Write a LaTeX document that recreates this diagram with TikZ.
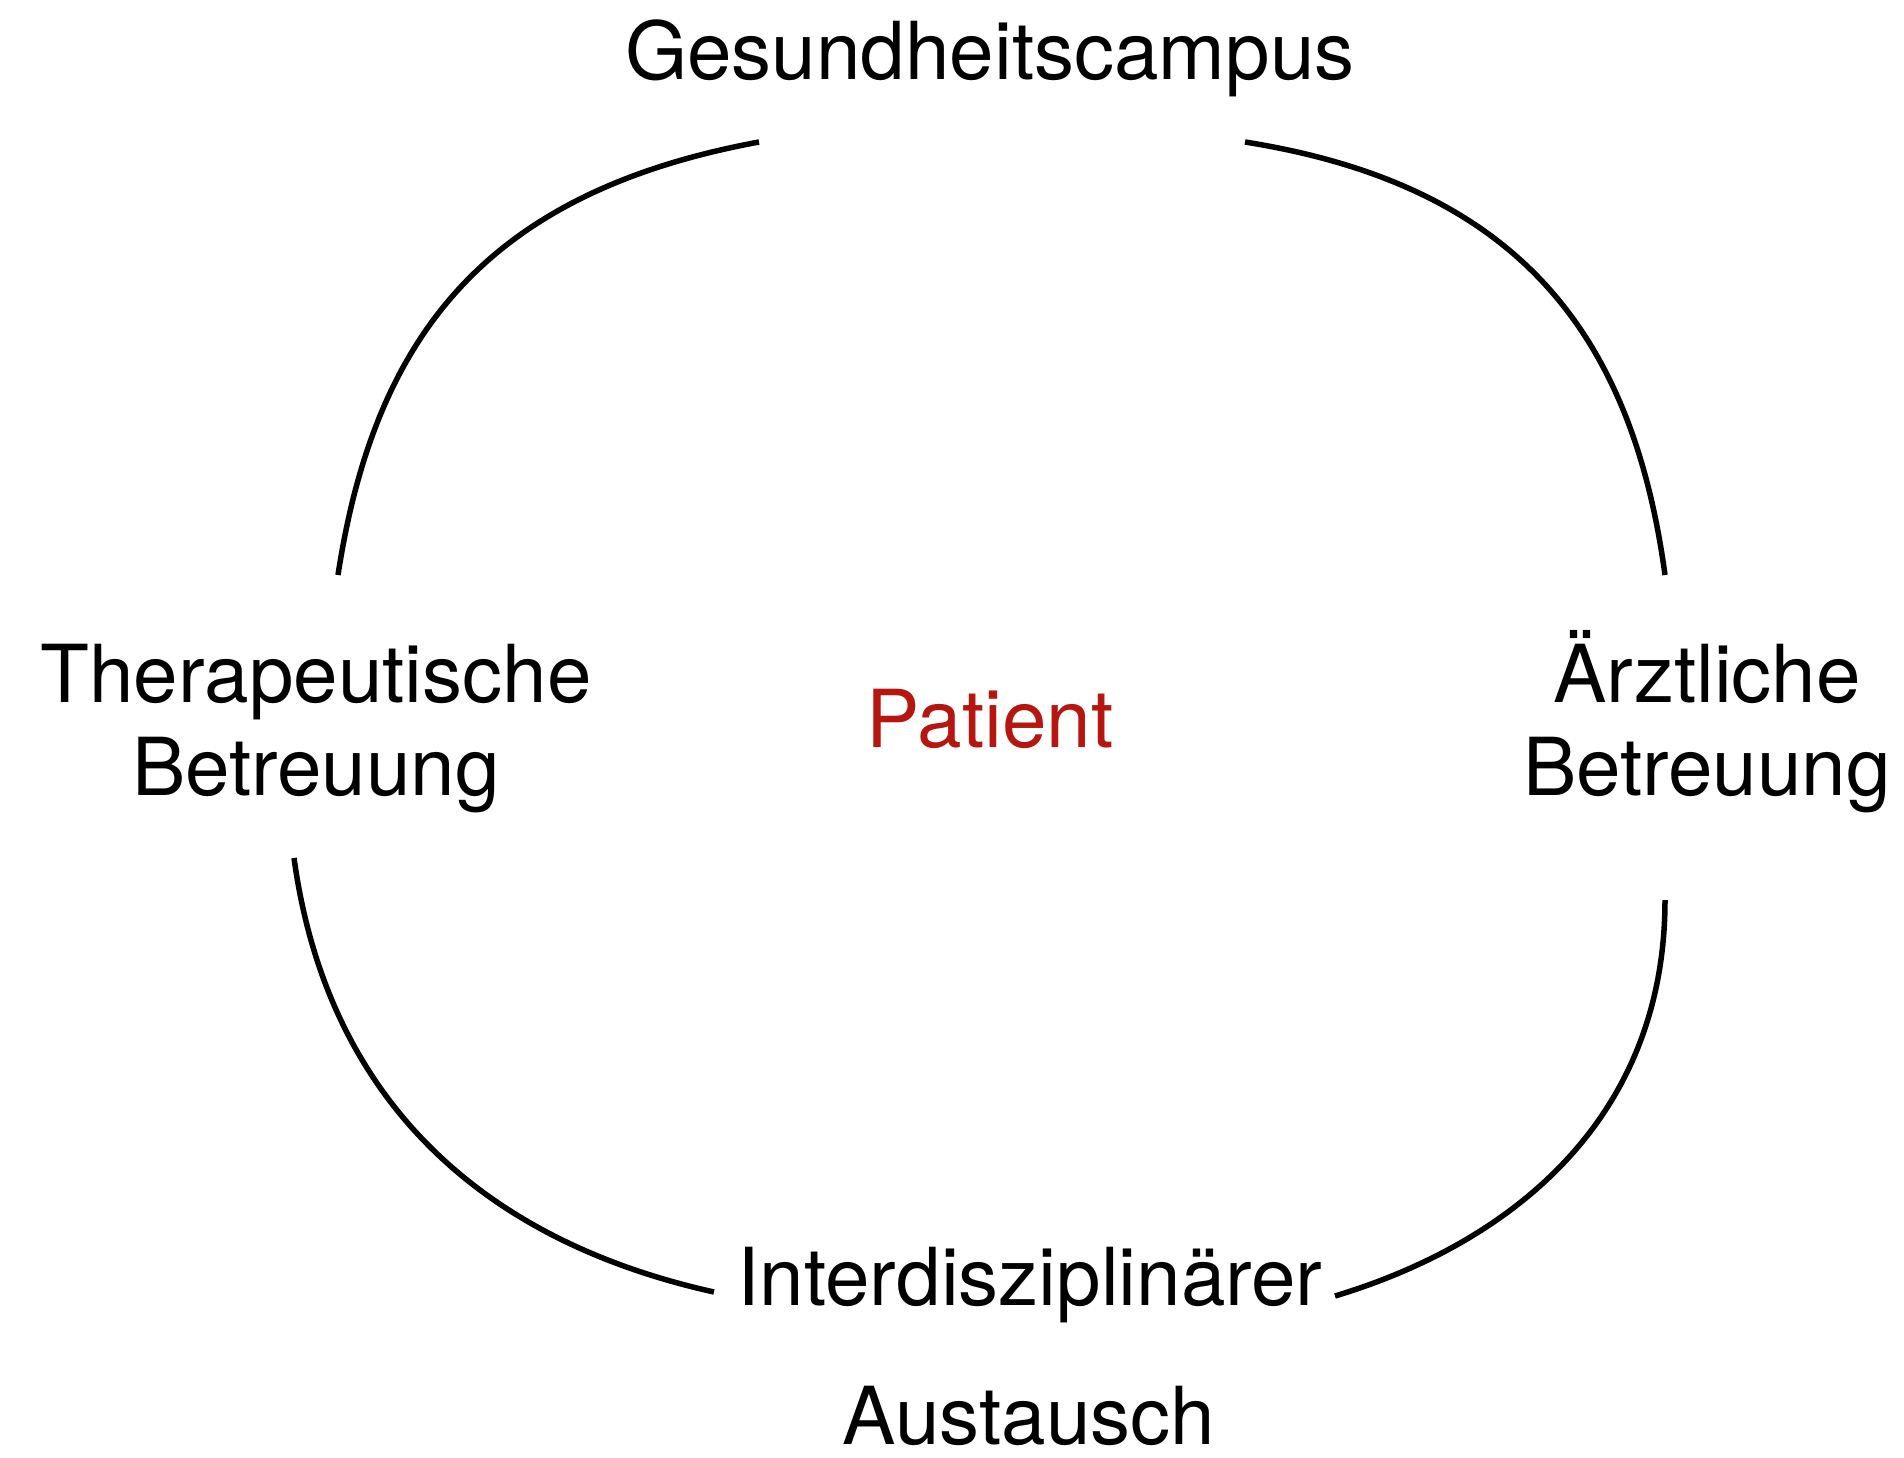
\documentclass[tikz,border=0pt]{standalone}
\usepackage{fontspec}
\setmainfont{TeX Gyre Heros}
\usepackage{xcolor}
\definecolor{pat}{HTML}{B5160F}
\usepackage{tikz}
\usetikzlibrary{positioning}
\tikzset{
  lbl/.style={font=\fontsize{80}{94}\selectfont,align=center,inner sep=0pt,anchor=base},
  plbl/.style={lbl,text=pat},
  arc/.style={draw=black,line width=5.5pt},
}

\begin{document}
\begin{tikzpicture}[x=1pt,y=-1pt]
\useasboundingbox (0,0) rectangle (1904,1457);
% labels
\node[lbl] (campus) at (990,79) {Gesundheitscampus};
\node[lbl] (ther) at (316,702) {Therapeutische};
\node[lbl] (therb) at (316,795) {Betreuung};
\node[lbl] (arzt) at (1707,702) {Ärztliche};
\node[lbl] (arztb) at (1707,795) {Betreuung};
\node[plbl] (patient) at (990,747) {Patient};
\node[lbl] (inter) at (1030,1305) {Interdisziplinärer};
\node[lbl] (aust) at (1029,1444) {Austausch};
% arc ends
\coordinate (tlA) at (759,142);  \coordinate (tlB) at (338,575);
\coordinate (trA) at (1245,142); \coordinate (trB) at (1665,575);
\coordinate (blA) at (294,858);  \coordinate (blB) at (714,1292);
\coordinate (brA) at (1665,900); \coordinate (brB) at (1335,1296);
% arcs
\draw[arc] (tlA) .. controls (489,192) and (375,333) .. (tlB);
\draw[arc] (trA) .. controls (1516,185) and (1632,332) .. (trB);
\draw[arc] (blA) .. controls (327,1098) and (480,1240) .. (blB);
\draw[arc] (brA) .. controls (1665,1115) and (1517,1241) .. (brB);
\end{tikzpicture}
\end{document}
